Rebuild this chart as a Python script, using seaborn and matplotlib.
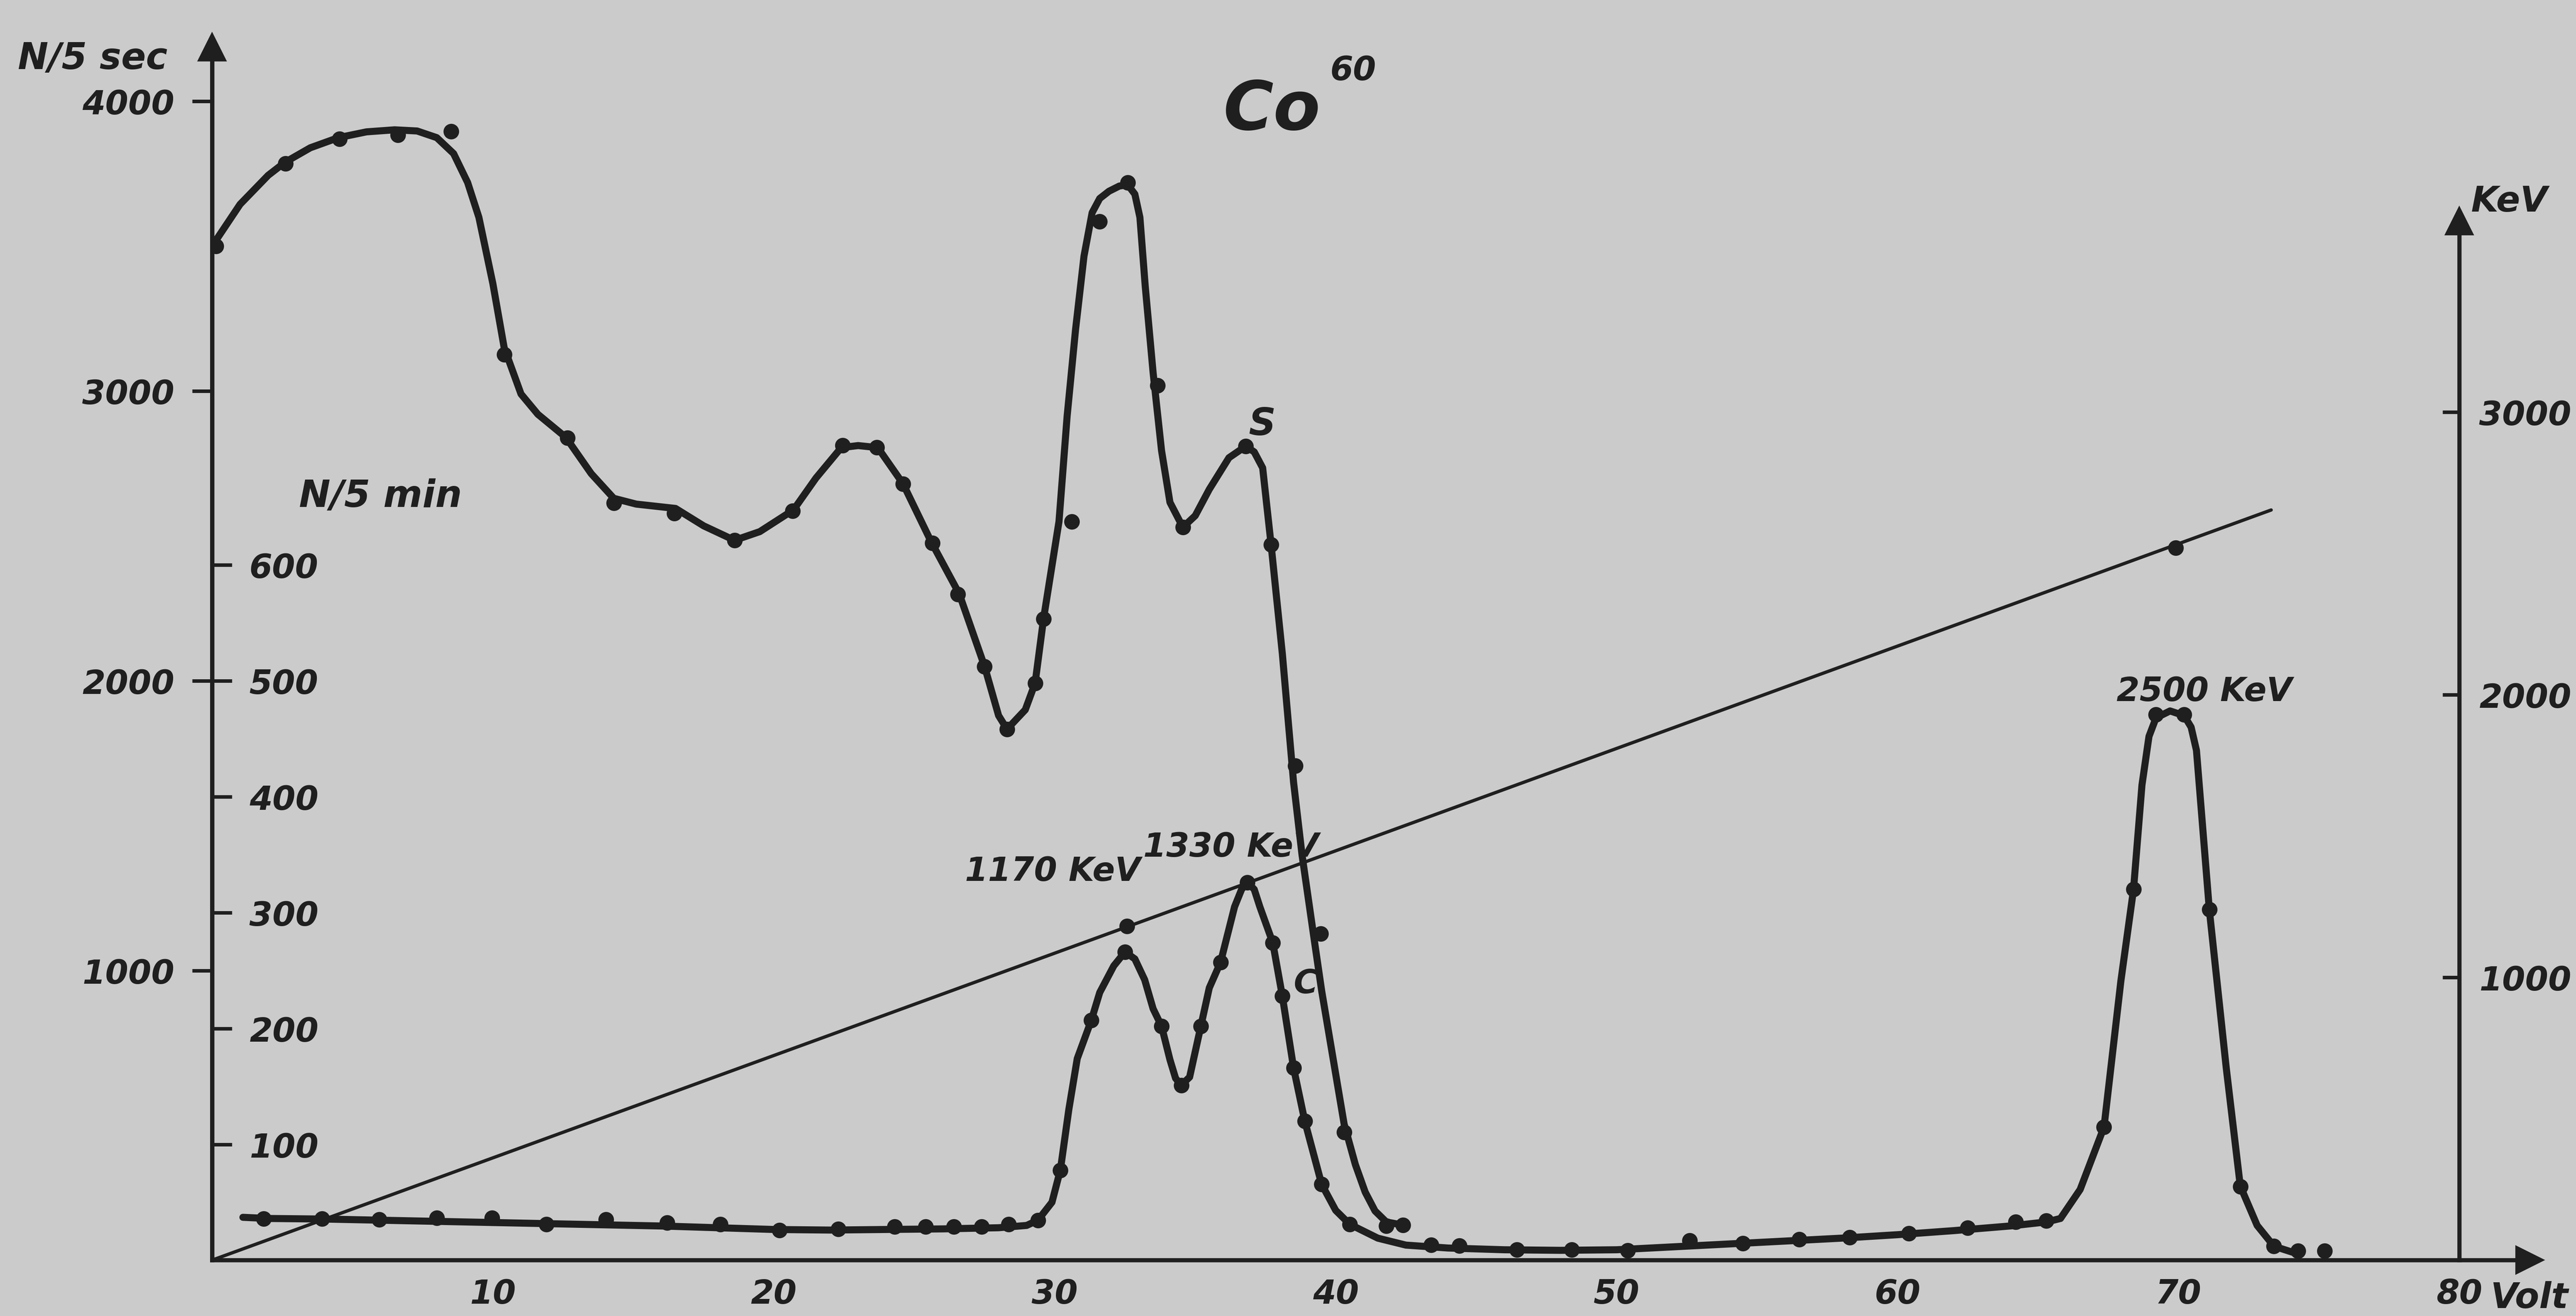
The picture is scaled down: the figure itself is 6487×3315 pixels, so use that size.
import numpy as np
import pandas as pd
import matplotlib
matplotlib.use("Agg")
import matplotlib.pyplot as plt
import seaborn as sns

# ---- data (x in Volt) ----
# S curve, counts per 5 sec (left outer scale)
s_curve_volt = [0, 1, 2, 2.6, 3.5, 4.5, 5.5, 6.5, 7.3, 8.0, 8.6, 9.1, 9.5, 10.0, 10.4, 11.0,
                11.6, 12.6, 13.5, 14.3, 15.1, 16.5, 17.5, 18.6, 19.5, 20.7, 21.5, 22.4, 23.0,
                23.7, 24.6, 25.6, 26.6, 27.5, 28.0, 28.3, 28.95, 29.3, 29.6, 30.15, 30.44,
                30.74, 31.04, 31.33, 31.6, 31.93, 32.3, 32.6, 32.85, 33.03, 33.22, 33.5, 33.8,
                34.1, 34.56, 35.0, 35.5, 36.2, 36.8, 37.1, 37.4, 37.7, 38.1, 38.5, 38.8, 39.2,
                39.5, 39.9, 40.3, 40.7, 41.05, 41.4, 41.8, 42.4]
s_curve_count = [3500, 3645, 3745, 3790, 3840, 3875, 3895, 3902, 3898, 3875, 3820, 3720, 3600,
                 3370, 3150, 2990, 2920, 2840, 2715, 2630, 2610, 2595, 2535, 2485, 2515, 2590,
                 2700, 2805, 2812, 2805, 2680, 2480, 2300, 2050, 1880, 1833, 1900, 1992, 2214,
                 2550, 2914, 3213, 3466, 3616, 3665, 3690, 3708, 3712, 3680, 3600, 3362, 3064,
                 2795, 2616, 2530, 2570, 2661, 2770, 2810, 2790, 2735, 2470, 2094, 1650, 1400,
                 1130, 930, 700, 470, 330, 235, 170, 132, 121]
s_dot_volt = [0.15, 2.62, 4.54, 6.62, 8.51, 10.41, 12.65, 14.31, 16.46, 18.6, 20.67, 22.45,
              23.66, 24.6, 25.64, 26.55, 27.5, 28.3, 29.3, 29.6, 30.6, 31.6, 32.6, 33.66,
              34.56, 36.8, 37.7, 38.57, 39.47, 40.3, 41.8, 42.4]
s_dot_count = [3500, 3785, 3871, 3884, 3897, 3127, 2838, 2614, 2578, 2485, 2587, 2813, 2806,
               2679, 2475, 2298, 2049, 1833, 1992, 2214, 2550, 3585, 3720, 3020, 2530, 2810,
               2470, 1707, 1127, 442, 119, 121]

# C curve, counts per 5 min (inner scale)
c_curve_volt = [1.1, 2, 4, 6, 8, 10, 12, 14, 16, 18, 20, 22, 24, 26, 28, 29.0, 29.4, 29.9,
                30.2, 30.5, 30.8, 31.3, 31.6, 32.1, 32.5, 32.85, 33.2, 33.5, 33.8, 34.1, 34.3,
                34.5, 34.8, 35.2, 35.5, 35.9, 36.4, 36.65, 36.86, 37.1, 37.3, 37.76, 38.1,
                38.5, 38.9, 39.5, 40.0, 40.5, 41.5, 42.5, 44, 46, 48, 50, 52, 54, 56, 58, 60,
                62, 64, 65.3, 65.8, 66.5, 67.35, 67.95, 68.4, 68.7, 68.95, 69.2, 69.7, 70.2,
                70.45, 70.64, 71.1, 71.7, 72.2, 72.8, 73.4, 74.3]
c_curve_count = [37, 36, 35.5, 34.5, 33.5, 32.5, 31.5, 30.5, 29.5, 28, 26.5, 26, 26.5, 27, 28,
                 30, 34.5, 50, 78, 130, 174, 207, 231, 254, 266, 260, 242, 217, 202, 173, 157,
                 151, 158, 202, 235, 257, 305, 320, 326, 320, 305, 274, 228, 166, 120, 65.5, 43,
                 31, 19, 13, 10.5, 9, 8.5, 9, 11.5, 14, 16.5, 19, 22, 25.5, 29.5, 33, 36, 61,
                 115, 241, 320, 410, 452, 468, 474, 470, 460, 440, 302, 166, 64, 30, 12, 5]
c_dot_volt = [1.84, 3.92, 5.95, 8.0, 9.97, 11.9, 14.03, 16.2, 18.1, 20.2, 22.3, 24.3, 25.4,
              26.4, 27.4, 28.36, 29.4, 30.2, 31.3, 32.5, 33.8, 34.5, 35.2, 35.9, 36.86, 37.76,
              38.1, 38.5, 38.9, 39.5, 40.5, 43.4, 44.4, 46.45, 48.4, 50.4, 52.6, 54.5, 56.5,
              58.3, 60.4, 62.5, 64.2, 65.3, 67.35, 68.4, 69.2, 70.2, 71.1, 72.2, 73.4, 74.25,
              75.2]
c_dot_count = [35.7, 35.9, 35, 36.4, 36.4, 30.9, 35, 32.3, 30.9, 26, 27, 29, 29, 29, 29, 31,
               34.5, 77.7, 207, 266, 202, 151, 202, 257, 326, 274, 228, 166, 120, 65.5, 31, 13,
               12.5, 9, 9, 8.5, 17, 14.6, 17.9, 19.6, 23, 28, 33, 34, 115, 320, 471, 471, 302.5,
               63.5, 12, 8, 8]

# calibration line, KeV against Volt (right scale)
line_volt = [0, 73.3]
line_kev = [0, 2654]
cal_volt = [32.57, 69.9]
cal_kev = [1181, 2520]

volt_ticks = [10, 20, 30, 40, 50, 60, 70, 80]
sec_ticks = [1000, 2000, 3000, 4000]
min_ticks = [100, 200, 300, 400, 500, 600]
kev_ticks = [1000, 2000, 3000]

paper = "#cbcbcb"
ink = "#1f1f1f"

sns.set_theme(style="white")
plt.rcParams['font.family'] = ['DejaVu Sans']
plt.rcParams['font.weight'] = 'bold'
plt.rcParams['font.style'] = 'italic'
plt.rcParams['text.color'] = ink
plt.rcParams['xtick.color'] = ink
plt.rcParams['ytick.color'] = ink

fig = plt.figure(figsize=(6487 / 400, 3316 / 400), dpi=400)
fig.patch.set_facecolor(paper)
ax = fig.add_axes([0.0823, 0.0424, 0.8997, 0.9214])
ax.set_facecolor(paper)
ax_c = ax.twinx()
ax_k = ax.twinx()

# curves
sns.lineplot(x=s_curve_volt, y=s_curve_count, ax=ax, sort=False, estimator=None,
             color=ink, linewidth=3.2, solid_capstyle="round", solid_joinstyle="round")
sns.scatterplot(x=s_dot_volt, y=s_dot_count, ax=ax, color=ink, s=50, linewidth=0, zorder=3)

sns.lineplot(x=c_curve_volt, y=c_curve_count, ax=ax_c, sort=False, estimator=None,
             color=ink, linewidth=3.2, solid_capstyle="round", solid_joinstyle="round")
sns.scatterplot(x=c_dot_volt, y=c_dot_count, ax=ax_c, color=ink, s=50, linewidth=0, zorder=3)

sns.lineplot(x=line_volt, y=line_kev, ax=ax_k, sort=False, estimator=None,
             color=ink, linewidth=1.5)
sns.scatterplot(x=cal_volt, y=cal_kev, ax=ax_k, color=ink, s=50, linewidth=0, zorder=3)

# scales: outer N/5 sec = 4 x inner N/5 min
ymax = 4187
ax.set_xlim(0, 82.5)
ax.set_ylim(0, ymax)
ax_c.set_ylim(0, ymax / 4)
ax_k.set_ylim(0, 4291)
for a in (ax, ax_c, ax_k):
    a.set_xlabel("")
    a.set_ylabel("")
    a.spines['top'].set_visible(False)

# main axes: Volt along x, N/5 sec on the left
ax.spines['right'].set_visible(False)
for side in ('left', 'bottom'):
    ax.spines[side].set_color(ink)
    ax.spines[side].set_linewidth(1.9)
ax.set_xticks(volt_ticks)
ax.set_xticklabels([str(v) for v in volt_ticks])
ax.set_yticks(sec_ticks)
ax.set_yticklabels([str(v) for v in sec_ticks])
ax.tick_params(axis='x', direction='in', length=6.5, width=1.6, pad=8, labelsize=15)
ax.tick_params(axis='y', direction='out', length=9, width=1.6, pad=8, labelsize=15)
ax.plot(0, 1, marker='^', color=ink, markersize=12, transform=ax.get_xaxis_transform(),
        clip_on=False)
ax.plot(1, 0, marker='>', color=ink, markersize=12, transform=ax.get_yaxis_transform(),
        clip_on=False)

# inner scale N/5 min sits on the same vertical line, ticks to the right
for side in ('left', 'bottom'):
    ax_c.spines[side].set_visible(False)
ax_c.spines['right'].set_position(('axes', 0))
ax_c.spines['right'].set_color(ink)
ax_c.spines['right'].set_linewidth(1.9)
ax_c.set_yticks(min_ticks)
ax_c.set_yticklabels([str(v) for v in min_ticks])
ax_c.tick_params(axis='y', direction='out', length=9, width=1.6, pad=8, labelsize=15)

# KeV scale on the right at 80 Volt
for side in ('left', 'bottom'):
    ax_k.spines[side].set_visible(False)
ax_k.spines['right'].set_position(('axes', 80 / 82.5))
ax_k.spines['right'].set_color(ink)
ax_k.spines['right'].set_linewidth(1.9)
ax_k.spines['right'].set_bounds(0, 3676)
ax_k.set_yticks(kev_ticks)
ax_k.set_yticklabels([str(v) for v in kev_ticks])
ax_k.tick_params(axis='y', direction='in', length=7.5, width=1.6, pad=9, labelsize=15)
ax_k.plot(80, 3676, marker='^', color=ink, markersize=12, clip_on=False)

# texts
ax.text(36.0, 3904, "Co", fontsize=31)
ax.text(39.8, 4075, "60", fontsize=15)
ax.text(3.1, 2602, "N/5 min", fontsize=17)
ax.text(36.9, 2850, "S", fontsize=17)
ax.text(38.5, 923, "C", fontsize=15)
ax.text(26.8, 1311, "1170 KeV", fontsize=15)
ax.text(33.15, 1394, "1330 KeV", fontsize=15)
ax.text(67.8, 1932, "2500 KeV", fontsize=15)
fig.text(0.007, 0.9476, "N/5 sec", fontsize=16.5)
fig.text(0.9592, 0.8392, "KeV", fontsize=16)
fig.text(0.9668, 0.0062, "Volt", fontsize=16)

fig.savefig("out.png", dpi=400, facecolor=paper)
